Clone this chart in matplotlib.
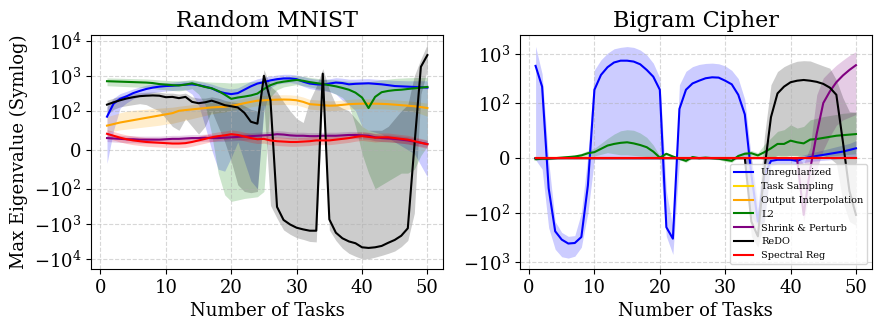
import numpy as np
import matplotlib
matplotlib.use("Agg")
import matplotlib.pyplot as plt
from matplotlib.ticker import NullLocator

plt.rcParams["font.family"] = "serif"

tasks = np.arange(1, 51)

methods = ["Unregularized", "Task Sampling", "Output Interpolation", "L2",
           "Shrink & Perturb", "ReDO", "Spectral Reg"]
colors = ["blue", "gold", "orange", "green", "purple", "black", "red"]

# ---------------- Random MNIST ----------------
mnist_unreg = [85, 160, 220, 260, 320, 370, 420, 460, 490, 510,
               520, 540, 560, 570, 540, 490, 440, 360, 320, 300,
               320, 400, 500, 600, 660, 740, 800, 840, 840, 800,
               680, 600, 570, 560, 600, 640, 620, 570, 590, 600,
               610, 590, 570, 540, 510, 500, 490, 480, 470, 460]
mnist_unreg_lo = [-35, 50, 120, 170, 220, 260, 300, 330, 350, 370,
                  380, 390, 400, 300, 150, 60, 0, -50, -55, -20,
                  20, -30, -80, -100, 100, 450, 580, 620, 640, 600,
                  500, 430, 400, 380, 350, 300, 200, 150, 100, 60,
                  50, 45, 40, 30, 20, 10, 0, -10, -40, -70]
mnist_unreg_hi = [130, 230, 310, 360, 420, 480, 540, 590, 620, 640,
                  660, 690, 710, 720, 690, 640, 580, 500, 450, 420,
                  450, 560, 700, 820, 900, 980, 1050, 1100, 1100, 1050,
                  950, 850, 800, 780, 820, 880, 850, 800, 800, 820,
                  830, 800, 780, 760, 740, 730, 720, 720, 720, 720]

mnist_outint = [62, 66, 70, 73, 76, 79, 82, 85, 88, 91,
                94, 100, 105, 110, 115, 120, 125, 128, 130, 140,
                150, 165, 180, 195, 200, 205, 208, 210, 208, 200,
                180, 155, 150, 145, 140, 142, 148, 155, 158, 160,
                160, 160, 158, 155, 150, 145, 140, 135, 128, 120]
mnist_outint_lo = [45, 48, 51, 53, 55, 57, 59, 61, 63, 66,
                   68, 72, 76, 80, 84, 88, 92, 95, 97, 104,
                   110, 120, 130, 140, 145, 150, 150, 152, 150, 145,
                   130, 112, 108, 105, 101, 103, 107, 112, 114, 115,
                   115, 115, 114, 112, 108, 105, 101, 97, 92, 86]
mnist_outint_hi = [85, 90, 95, 99, 103, 107, 111, 115, 119, 123,
                   127, 135, 142, 150, 158, 166, 172, 176, 180, 192,
                   206, 226, 246, 268, 275, 282, 285, 288, 285, 275,
                   247, 212, 206, 199, 192, 195, 203, 212, 217, 220,
                   220, 220, 217, 212, 206, 199, 192, 185, 176, 165]

mnist_l2 = [700, 690, 680, 670, 660, 650, 640, 620, 580, 560,
            540, 530, 560, 610, 540, 480, 440, 370, 290, 220,
            240, 255, 275, 310, 420, 540, 630, 680, 720, 760,
            720, 660, 620, 580, 540, 500, 450, 400, 330, 240,
            120, 250, 340, 370, 390, 400, 420, 440, 460, 480]
mnist_l2_lo = [520, 510, 500, 490, 480, 470, 460, 440, 410, 400,
               380, 370, 390, 430, 300, 150, 40, -60, -150, -230,
               -210, -190, -180, -170, -120, 250, 400, 480, 520, 560,
               520, 480, 440, 400, 360, 300, 240, 150, 60, -10,
               -60, -100, -90, -80, -70, -60, -60, -50, -15, 10]
mnist_l2_hi = [870, 860, 850, 840, 830, 820, 810, 790, 760, 740,
               720, 720, 740, 780, 720, 680, 660, 650, 640, 620,
               630, 650, 680, 700, 750, 800, 870, 920, 960, 1000,
               960, 900, 850, 800, 780, 760, 720, 700, 690, 680,
               680, 720, 760, 800, 840, 860, 880, 890, 900, 900]

mnist_sp = [30, 29, 28, 27, 27, 26, 26, 26, 26, 27,
            28, 28, 29, 30, 30, 31, 30, 30, 31, 32,
            33, 34, 35, 36, 37, 38, 40, 39, 37, 36,
            36, 35, 35, 36, 36, 36, 37, 38, 38, 37,
            36, 32, 30, 29, 28, 26, 24, 21, 18, 15]
mnist_sp_lo = [21, 20, 19, 18, 18, 17, 17, 17, 17, 18,
               19, 19, 20, 21, 21, 22, 21, 21, 22, 23,
               24, 25, 26, 27, 28, 29, 31, 30, 28, 27,
               27, 26, 26, 27, 27, 27, 28, 29, 29, 28,
               27, 23, 21, 20, 19, 17, 15, 12, 9, 6]
mnist_sp_hi = [39, 38, 37, 36, 36, 35, 35, 35, 35, 36,
               37, 37, 38, 39, 39, 40, 39, 39, 40, 41,
               42, 43, 44, 45, 46, 47, 49, 48, 46, 45,
               45, 44, 44, 45, 45, 45, 46, 47, 47, 46,
               45, 41, 39, 38, 37, 35, 33, 30, 27, 24]

mnist_redo = [150, 175, 200, 225, 245, 262, 270, 275, 270, 245,
              250, 230, 250, 180, 165, 175, 195, 170, 145, 135,
              125, 95, 72, 67, 1000, 200, -330, -780, -1050, -1300,
              -1450, -1580, -1580, 1150, -750, -1800, -2600, -3200, -3600, -4700,
              -4900, -4700, -4300, -3500, -2900, -2200, -1350, 8, 1800, 3900]
mnist_redo_lo = [90, 110, 130, 140, 150, 160, 150, 120, 100, 80,
                 60, 50, 80, 60, 40, 60, 100, 60, 20, -30,
                 -90, -120, -130, -120, 150, -300, -700, -1500, -2000, -2500,
                 -2800, -3200, -3300, 300, -1500, -3000, -5000, -7000, -8500, -10000,
                 -10000, -9000, -8000, -7000, -6000, -4500, -3000, -500, 300, 1500]
mnist_redo_hi = [200, 230, 260, 290, 310, 330, 340, 345, 340, 320,
                 320, 300, 320, 250, 230, 230, 250, 230, 200, 180,
                 170, 140, 110, 100, 1500, 500, 350, 180, 100, 80,
                 70, 200, 500, 1600, 400, 150, 120, 100, 80, 60,
                 50, 50, 50, 60, 80, 100, 150, 1000, 3000, 8000]

mnist_spec = [41, 36, 31, 27, 24, 22, 20, 19, 18, 17,
              16, 16, 17, 20, 24, 28, 32, 35, 37, 40,
              38, 34, 30, 27, 28, 24, 22, 21, 20, 20,
              21, 22, 24, 24, 24, 26, 28, 30, 33, 35,
              33, 31, 32, 32, 30, 28, 26, 22, 18, 14]
mnist_spec_lo = [30, 25, 20, 16, 13, 11, 9, 8, 7, 6,
                 5, 5, 6, 9, 13, 17, 21, 24, 26, 29,
                 27, 23, 19, 16, 17, 13, 11, 10, 9, 9,
                 10, 11, 13, 13, 13, 15, 17, 19, 22, 24,
                 22, 20, 21, 21, 19, 17, 15, 11, 7, 3]
mnist_spec_hi = [52, 47, 42, 38, 35, 33, 31, 30, 29, 28,
                 27, 27, 28, 31, 35, 39, 43, 46, 48, 51,
                 49, 45, 41, 38, 39, 35, 33, 32, 31, 31,
                 32, 33, 35, 35, 35, 37, 39, 41, 44, 46,
                 44, 42, 43, 43, 41, 39, 37, 33, 29, 25]

# ---------------- Bigram Cipher ----------------
zeros = [0] * 50

cipher_unreg = [580, 220, -55, -237, -350, -420, -410, -310, -50, 190,
                380, 545, 680, 740, 740, 710, 625, 480, 350, 190,
                -196, -335, 90, 190, 255, 290, 325, 340, 335, 290,
                245, 150, 80, -30, -150, -30, -5, -3, -3, -3,
                -5, 0, 2, 4, 6, 8, 10, 12, 15, 18]
cipher_unreg_lo = [-3, -20, -200, -550, -780, -830, -760, -500, -100, -2,
                   -2, -2, -2, -2, -2, -2, -2, -2, -2, -2,
                   -300, -700, -5, 0, 0, 0, 0, 0, 0, 0,
                   0, 0, 0, -120, -180, -150, -15, -10, -10, -10,
                   -12, -8, -6, -5, -4, -3, -2, -1, 0, 3]
cipher_unreg_hi = [1450, 400, -5, -150, -250, -300, -290, -100, 5, 480,
                   770, 1050, 1290, 1380, 1430, 1380, 1220, 970, 660, 330,
                   -60, -200, 240, 450, 560, 620, 650, 660, 640, 580,
                   470, 320, 120, 0, -80, 0, 2, 3, 3, 3,
                   3, 6, 9, 12, 15, 18, 21, 24, 27, 32]

cipher_l2 = [-2, -1, -1, 0, 1, 2, 3, 5, 9, 11,
             17, 23, 26, 28, 29, 27, 24, 20, 12, 1,
             8, 3, -1, -5, 2, 0, 1, 0, -1, -3,
             -5, 4, 8, 9, 5, 11, 18, 26, 26, 32,
             29, 27, 34, 35, 37, 39, 41, 42, 43, 44]
cipher_l2_lo = [-4, -3, -3, -2, -1, 0, 0, 1, 4, 4,
                7, 10, 8, 6, 6, 5, 4, 3, 2, -2,
                5, 1, -3, -8, 0, -2, -1, -2, -3, -6,
                -8, 1, 4, 4, 0, -3, 0, 4, 2, 5,
                4, 0, 2, 2, 2, 4, 5, 6, 7, 8]
cipher_l2_hi = [0, 1, 1, 2, 3, 4, 6, 9, 14, 18,
                27, 36, 44, 50, 52, 51, 46, 38, 24, 4,
                10, 5, 1, -2, 4, 2, 3, 2, 1, 0,
                -2, 7, 12, 14, 10, 25, 37, 49, 52, 61,
                55, 58, 70, 73, 76, 78, 80, 82, 83, 84]

cipher_sp = [0] * 40 + [-2, -110, -20, 45, 102, 175, 270, 370, 480, 600]
cipher_sp_lo = [0] * 40 + [-8, -150, -60, -20, 15, 40, 60, 70, 75, 80]
cipher_sp_hi = [0] * 40 + [3, -10, 20, 150, 330, 450, 600, 760, 950, 1130]

cipher_redo = [0] * 33 + [-150, -300, -20, 75, 160, 220, 270, 290, 300,
                          290, 275, 250, 210, 150, 30, -60, -110]
cipher_redo_lo = [0] * 33 + [-300, -500, -150, 0, 5, 5, 5, 5, 5,
                             5, 5, 5, 0, -10, -80, -150, -180]
cipher_redo_hi = [0] * 33 + [0, -100, 40, 240, 445, 560, 650, 720, 740,
                             730, 650, 580, 520, 300, 130, 85, 84]

panels = [
    ("Random MNIST", (-19700, 14500), {
        "Unregularized": (mnist_unreg, mnist_unreg_lo, mnist_unreg_hi),
        "Output Interpolation": (mnist_outint, mnist_outint_lo, mnist_outint_hi),
        "L2": (mnist_l2, mnist_l2_lo, mnist_l2_hi),
        "Shrink & Perturb": (mnist_sp, mnist_sp_lo, mnist_sp_hi),
        "ReDO": (mnist_redo, mnist_redo_lo, mnist_redo_hi),
        "Spectral Reg": (mnist_spec, mnist_spec_lo, mnist_spec_hi),
    }),
    ("Bigram Cipher", (-1390, 2450), {
        "Unregularized": (cipher_unreg, cipher_unreg_lo, cipher_unreg_hi),
        "Task Sampling": (zeros, zeros, zeros),
        "Output Interpolation": (zeros, zeros, zeros),
        "L2": (cipher_l2, cipher_l2_lo, cipher_l2_hi),
        "Shrink & Perturb": (cipher_sp, cipher_sp_lo, cipher_sp_hi),
        "ReDO": (cipher_redo, cipher_redo_lo, cipher_redo_hi),
        "Spectral Reg": (zeros, zeros, zeros),
    }),
]

fig, axes = plt.subplots(1, 2, figsize=(8.8, 3.31), dpi=100)
fig.subplots_adjust(left=0.1034, right=0.9909, bottom=0.187, top=0.894, wspace=0.216)

for ax, (title, ylim, data) in zip(axes, panels):
    for name, color in zip(methods, colors):
        if name not in data:
            continue
        mean, lo, hi = data[name]
        ax.plot(tasks, mean, color=color, linewidth=1.5, label=name)
        ax.fill_between(tasks, lo, hi, color=color, alpha=0.2, linewidth=0)
    ax.set_yscale("symlog", linthresh=100)
    ax.yaxis.set_minor_locator(NullLocator())
    ax.set_ylim(*ylim)
    ax.set_title(title, fontsize=16)
    ax.set_xlabel("Number of Tasks", fontsize=13)
    ax.tick_params(labelsize=13)
    ax.grid(True, linestyle="--", alpha=0.5)

axes[0].set_ylabel("Max Eigenvalue (Symlog)", fontsize=13)

handles, labels = axes[1].get_legend_handles_labels()
axes[1].legend(handles, labels, loc="lower right", fontsize=7)

plt.savefig("out.png", dpi=100)
